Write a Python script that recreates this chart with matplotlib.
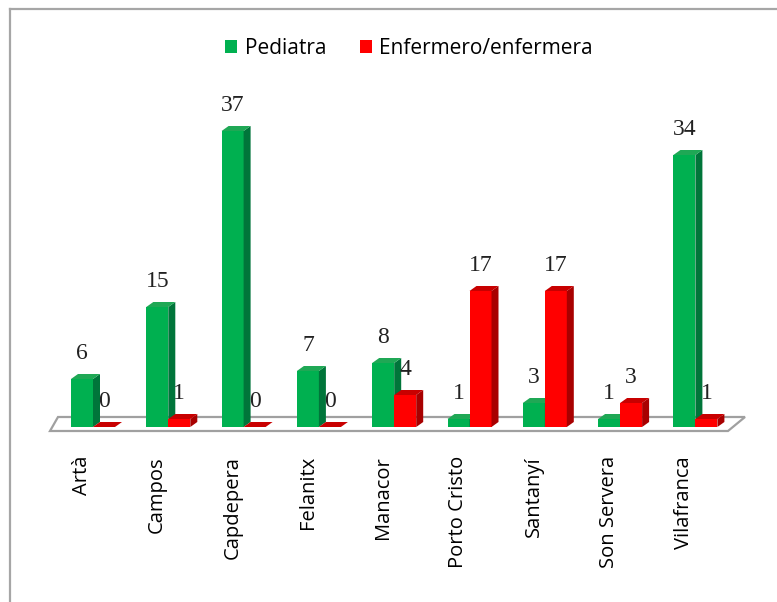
import matplotlib
matplotlib.use("Agg")
import matplotlib.pyplot as plt
from matplotlib.patches import Polygon, Patch
from matplotlib.lines import Line2D

# data
places = ["Artà", "Campos", "Capdepera", "Felanitx", "Manacor",
          "Porto Cristo", "Santanyí", "Son Servera", "Vilafranca"]
pediatra = [6, 15, 37, 7, 8, 1, 3, 1, 34]
enfermero = [0, 1, 0, 0, 4, 17, 17, 3, 1]
series_names = ["Pediatra", "Enfermero/enfermera"]

green = ("#00b050", "#00753a", "#1fa855")   # front, side, top
red = ("#ff0000", "#a80000", "#c80000")

W, H = 777, 602
fig = plt.figure(figsize=(W / 100, H / 100), dpi=100)

# axes placed so one category = 75.3 px and one unit = 8 px
px_cat, px_unit = 75.3, 8.0
x0_px, y0_px = 93, 427          # pixel of category 0 / value 0
ax_l, ax_r, ax_b, ax_t = 40, 760, 432, 90
ax = fig.add_axes([ax_l / W, 1 - ax_b / H, (ax_r - ax_l) / W, (ax_b - ax_t) / H])
ax.set_xlim((ax_l - x0_px) / px_cat, (ax_r - x0_px) / px_cat)
ax.set_ylim((y0_px - ax_b) / px_unit, (y0_px - ax_t) / px_unit)
ax.axis("off")

bw = 22 / px_cat
dx = 7 / px_cat
dy = 5 / px_unit


def bar3d(x, v, cols):
    front, side, top = cols
    ax.bar(x, v, width=bw, align="edge", color=front, linewidth=0, zorder=3)
    ax.add_patch(Polygon([(x + bw, 0), (x + bw + dx, dy), (x + bw + dx, v + dy), (x + bw, v)],
                         closed=True, facecolor=side, edgecolor="none", zorder=3))
    ax.add_patch(Polygon([(x, v), (x + dx, v + dy), (x + bw + dx, v + dy), (x + bw, v)],
                         closed=True, facecolor=top, edgecolor="none", zorder=3))


# floor
n = len(places)
fl = (50 - x0_px) / px_cat
fr = (728 - x0_px) / px_cat
floor = [(fl, -0.5), (fr, -0.5), (fr + 17 / px_cat, 1.25), (fl + 8 / px_cat, 1.25)]
ax.add_patch(Polygon(floor, closed=True, facecolor="white", edgecolor="#a0a0a0",
                     linewidth=1.6, zorder=1, clip_on=False))

lab_font = dict(family="Liberation Serif", size=17, color="#222222")
for i in range(n):
    xg = i - bw
    xr = i
    bar3d(xg, pediatra[i], green)
    bar3d(xr, enfermero[i], red)
    ax.annotate(str(pediatra[i]), (xg + bw / 2, pediatra[i]), xytext=(0, 11),
                textcoords="offset points", ha="center", va="bottom", zorder=5, **lab_font)
    ax.annotate(str(enfermero[i]), (xr + bw / 2, enfermero[i]), xytext=(0, 11),
                textcoords="offset points", ha="center", va="bottom", zorder=5, **lab_font)

# category labels
shift = matplotlib.transforms.ScaledTranslation(0, -25 / 100, fig.dpi_scale_trans)
for i, name in enumerate(places):
    ax.text(i - 0.15, -0.5, name, rotation=90, ha="center", va="top",
            fontsize=14.5, family="Open Sans", color="black",
            transform=ax.transData + shift)

# legend
handles = [Patch(facecolor=green[0], edgecolor="none"), Patch(facecolor=red[0], edgecolor="none")]
fig.legend(handles, series_names, loc="center", bbox_to_anchor=(409 / W, 1 - 48 / H),
           ncol=2, frameon=False, prop={"family": "Open Sans", "size": 15},
           handlelength=0.6, handleheight=0.6, handletextpad=0.35, columnspacing=1.6)

# chart frame (only top and left visible)
fig.add_artist(Line2D([10 / W, 1], [1 - 9 / H, 1 - 9 / H], color="#a6a6a6", linewidth=1.6))
fig.add_artist(Line2D([10 / W, 10 / W], [0, 1 - 9 / H], color="#a6a6a6", linewidth=1.6))

fig.savefig("out.png", dpi=100, facecolor="white")
